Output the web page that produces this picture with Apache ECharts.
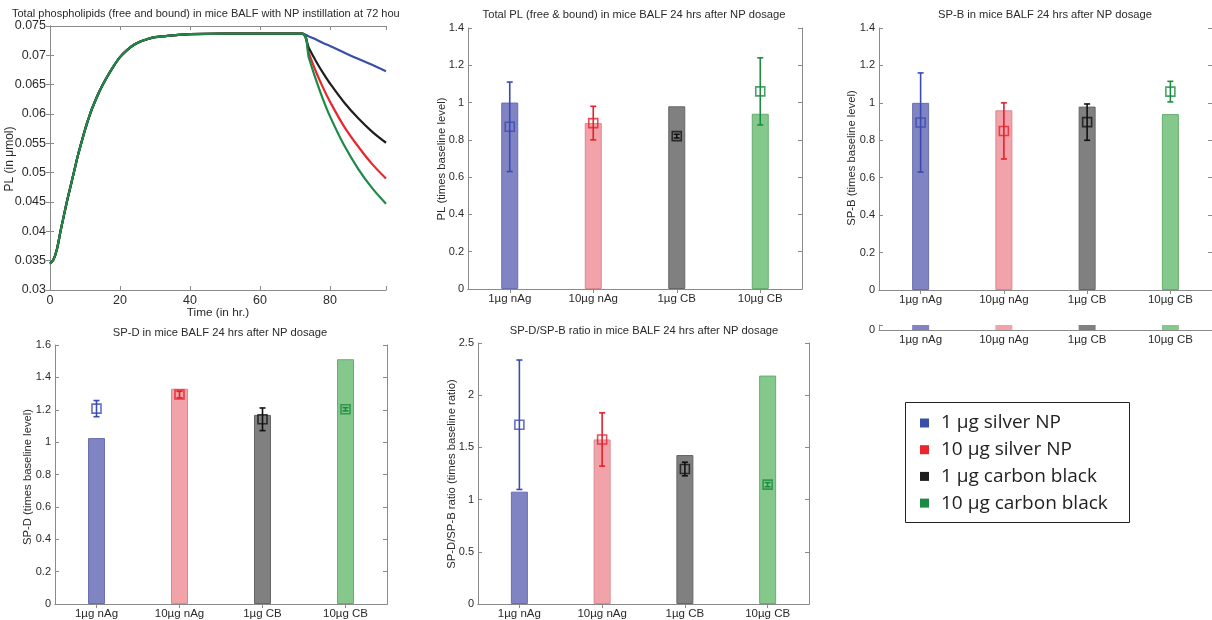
<!DOCTYPE html>
<html><head><meta charset="utf-8">
<script src="https://cdn.jsdelivr.net/npm/echarts@6/dist/echarts.min.js"></script>
<style>html,body{margin:0;padding:0;background:#fff}#c{width:1212px;height:620px}</style>
</head><body><div id="c"></div>
<script>
// ---------- data ----------
const timeHours = [0,1,2,3,4,5,6,7,8,9,10,11,12,14,16,18,20,22,24,26,28,30,35,40,50,60,72,74,76,78,80,84,88,92,96];
const plBaseline = [0.0345,0.0352,0.0370,0.0400,0.0428,0.0455,0.0480,0.0505,0.0530,0.0552,0.0573,0.0592,0.0609,0.0637,0.0660,0.0680,0.0697,0.0709,0.0718,0.0724,0.0728,0.0731,0.0734,0.0736,0.0737,0.0737,0.0737];
const plTailSilver1  = [0.0732,0.0727,0.0721,0.0716,0.0705,0.0694,0.0684,0.0673];
const plTailSilver10 = [0.0703,0.0672,0.0645,0.0621,0.0579,0.0545,0.0515,0.0490];
const plTailCarbon1  = [0.0712,0.0690,0.0670,0.0652,0.0620,0.0593,0.0570,0.0551];
const plTailCarbon10 = [0.0695,0.0658,0.0625,0.0596,0.0547,0.0507,0.0474,0.0447];
const lineNames = ['1 µg silver NP','10 µg silver NP','1 µg carbon black','10 µg carbon black'];
const lineColors = ['#3a4fa6','#e8262c','#1e1e1e','#1b8a45'];

const categories = ['1µg nAg','10µg nAg','1µg CB','10µg CB'];
const barColors = ['#8084c3','#f2a3a9','#808080','#84c98b'];
const barBorders = ['#6a6eb0','#d98890','#666666','#66ad6e'];
const markerColors = ['#3b4cb0','#e5202a','#111111','#1d8c40'];

const plBars = [1.00,0.89,0.98,0.94];
const plMeans = [0.87,0.89,0.82,1.06];
const plErrs = [0.24,0.09,0.01,0.18];

const spbBars = [1.00,0.96,0.98,0.94];
const spbMeans = [0.895,0.85,0.897,1.06];
const spbErrs = [0.265,0.15,0.097,0.055];

const spdBars = [1.025,1.33,1.168,1.512];
const spdMeans = [1.207,1.294,1.141,1.203];
const spdErrs = [0.05,0.02,0.07,0.01];

const ratioBars = [1.076,1.576,1.427,2.188];
const ratioMeans = [1.717,1.576,1.293,1.143];
const ratioErrs = [0.62,0.255,0.065,0.02];

const titles = [
  'Total phospholipids (free and bound) in mice BALF with NP instillation at 72 hou',
  'Total PL (free & bound) in mice BALF 24 hrs after NP dosage',
  'SP-B in mice BALF 24 hrs after NP dosage',
  'SP-D in mice BALF 24 hrs after NP dosage',
  'SP-D/SP-B ratio in mice BALF 24 hrs after NP dosage'
];
const yNames = ['PL (in \u03bcmol)','PL (times baseline level)','SP-B (times baseline level)','SP-D (times baseline level)','SP-D/SP-B ratio (times baseline ratio)'];
const xNameLine = 'Time (in hr.)';

// ---------- helpers ----------
const FONT = 'Liberation Sans';
const AX = '#8a8a8a';
const TXT = '#2a2a2a';
const grids = [
  {left:50, top:26, width:336, height:264},
  {left:468, top:28, width:334, height:261},
  {left:879, top:28, width:334, height:262},
  {left:879, top:325, width:334, height:5},
  {left:55, top:345, width:332, height:262},
  {left:478, top:343, width:331, height:262}
];
const xAxes = [], yAxes = [], series = [];
const tickIn = {show:true, inside:true, length:4, lineStyle:{color:AX}};
const lineAx = {show:true, lineStyle:{color:AX, width:1}};
const lbl = {color:TXT, fontFamily:FONT, fontSize:11};

function catAxes(gi, withTop) {
  const b = xAxes.length;
  xAxes.push({type:'category', gridIndex:gi, data:categories, position:'bottom',
    axisLine:lineAx, axisTick:Object.assign({alignWithLabel:true}, tickIn),
    axisLabel:Object.assign({}, lbl, {margin:4, fontSize:11.5}), splitLine:{show:false}});
  if (withTop) xAxes.push({type:'category', gridIndex:gi, data:categories, position:'top',
    axisLine:lineAx, axisTick:Object.assign({alignWithLabel:true}, tickIn),
    axisLabel:{show:false}, splitLine:{show:false}});
  return b;
}
function valAxes(gi, min, max, interval, withRight, fmt) {
  const b = yAxes.length;
  yAxes.push({type:'value', gridIndex:gi, min, max, interval, position:'left',
    axisLine:lineAx, axisTick:tickIn,
    axisLabel:Object.assign({margin:4, formatter:fmt}, lbl), splitLine:{show:false}});
  if (withRight) yAxes.push({type:'value', gridIndex:gi, min, max, interval, position:'right',
    axisLine:lineAx, axisTick:tickIn, axisLabel:{show:false}, splitLine:{show:false}});
  return b;
}
function barPanel(gi, bars, means, errs, ymin, ymax, yint) {
  const xi = catAxes(gi, true);
  const yi = valAxes(gi, ymin, ymax, yint, true, v => String(+v.toFixed(2)));
  series.push({type:'bar', xAxisIndex:xi, yAxisIndex:yi, barWidth:17, z:2,
    data: bars.map((v,i)=>({value:v, itemStyle:{color:barColors[i], borderColor:barBorders[i], borderWidth:1}}))});
  series.push({type:'custom', xAxisIndex:xi, yAxisIndex:yi, z:4,
    encode:{x:0, y:[1,2]},
    data: means.map((m,i)=>[i, m-errs[i], m+errs[i]]),
    renderItem(params, api){
      const c = markerColors[params.dataIndex];
      const p1 = api.coord([api.value(0), api.value(1)]);
      const p2 = api.coord([api.value(0), api.value(2)]);
      const cap = 3, st = {stroke:c, lineWidth:1.6};
      return {type:'group', children:[
        {type:'line', shape:{x1:p1[0], y1:p1[1], x2:p2[0], y2:p2[1]}, style:st},
        {type:'line', shape:{x1:p1[0]-cap, y1:p1[1], x2:p1[0]+cap, y2:p1[1]}, style:st},
        {type:'line', shape:{x1:p2[0]-cap, y1:p2[1], x2:p2[0]+cap, y2:p2[1]}, style:st}
      ]};
    }});
  series.push({type:'scatter', xAxisIndex:xi, yAxisIndex:yi, z:5, symbol:'rect', symbolSize:9,
    data: means.map((m,i)=>({value:m, itemStyle:{color:'rgba(0,0,0,0)', borderColor:markerColors[i], borderWidth:1.6}}))});
}

// ---------- panel 0: line chart ----------
const lbl0 = Object.assign({}, lbl, {fontSize:12.5});
xAxes.push({type:'value', gridIndex:0, min:0, max:96, interval:20, position:'bottom',
  axisLine:lineAx, axisTick:tickIn, splitLine:{show:false},
  axisLabel:Object.assign({margin:4, formatter:v => (v % 20 === 0 ? String(v) : '')}, lbl0)});
xAxes.push({type:'value', gridIndex:0, min:0, max:96, interval:20, position:'top',
  axisLine:lineAx, axisTick:tickIn, splitLine:{show:false}, axisLabel:{show:false}});
yAxes.push({type:'value', gridIndex:0, min:0.03, max:0.075, interval:0.005, position:'left',
  axisLine:lineAx, axisTick:tickIn, splitLine:{show:false},
  axisLabel:Object.assign({margin:4, formatter:v => String(+v.toFixed(3))}, lbl0)});
yAxes.push({type:'value', gridIndex:0, min:0.03, max:0.075, interval:0.005, position:'right',
  axisLine:lineAx, axisTick:tickIn, splitLine:{show:false}, axisLabel:{show:false}});
const tails = [plTailSilver1, plTailSilver10, plTailCarbon1, plTailCarbon10];
tails.forEach((tail, k) => {
  const vals = plBaseline.concat(tail);
  series.push({type:'line', name:lineNames[k], xAxisIndex:0, yAxisIndex:0, showSymbol:false, symbol:'none',
    smooth:0.35, color:lineColors[k], z:3+k,
    lineStyle:{width:2.2, color:lineColors[k]}, itemStyle:{color:lineColors[k]},
    data: timeHours.map((t,i)=>[t, vals[i]])});
});

// ---------- bar panels ----------
barPanel(1, plBars, plMeans, plErrs, 0, 1.4, 0.2);
barPanel(2, spbBars, spbMeans, spbErrs, 0, 1.4, 0.2);
// cropped strip under SP-B panel
{
  const xi = catAxes(3, false);
  const yi = valAxes(3, 0, 0.02, 0.02, false, v => (v === 0 ? '0' : ''));
  series.push({type:'bar', xAxisIndex:xi, yAxisIndex:yi, barWidth:17, clip:true,
    data: spbBars.map((v,i)=>({value:v, itemStyle:{color:barColors[i]}}))});
}
barPanel(4, spdBars, spdMeans, spdErrs, 0, 1.6, 0.2);
barPanel(5, ratioBars, ratioMeans, ratioErrs, 0, 2.5, 0.5);

// ---------- texts ----------
const tStyle = (s, x, y, align, size) => ({type:'text', x, y, style:{text:s, fill:TXT, font:`${size||11}px "${FONT}"`, align:align||'center', verticalAlign:'middle'}});
const rot = (s, x, y, size) => ({type:'text', x, y, rotation:Math.PI/2, style:{text:s, fill:TXT, font:`${size||11.3}px "${FONT}"`, align:'center', verticalAlign:'middle'}});
const graphics = [
  tStyle(titles[0], 12, 14, 'left', 11),
  tStyle(titles[1], 634, 15, 'center', 11.2),
  tStyle(titles[2], 1045, 15, 'center', 11.2),
  tStyle(titles[3], 220, 333, 'center', 11.2),
  tStyle(titles[4], 644, 331, 'center', 11.2),
  tStyle(xNameLine, 218, 313, 'center', 11.8),
  rot(yNames[0], 10, 159, 12),
  rot(yNames[1], 442, 159),
  rot(yNames[2], 852, 158),
  rot(yNames[3], 28, 477),
  rot(yNames[4], 452, 474),
  {type:'rect', shape:{x:905.5, y:402.5, width:224, height:120}, style:{fill:'none', stroke:'#222', lineWidth:1}}
];

const chart = echarts.init(document.getElementById('c'), null, {renderer:'canvas'});
chart.setOption({
  animation:false,
  backgroundColor:'#fff',
  grid: grids,
  xAxis: xAxes,
  yAxis: yAxes,
  legend: {data: lineNames, orient:'vertical', left:920, top:413, padding:0, itemWidth:9, itemHeight:9, itemGap:6.7,
    icon:'rect', selectedMode:false,
    textStyle:{fontFamily:'Open Sans', fontSize:19, color:'#222', lineHeight:20, padding:[0,0,0,7]}},
  graphic: graphics,
  series: series
});
</script></body></html>
